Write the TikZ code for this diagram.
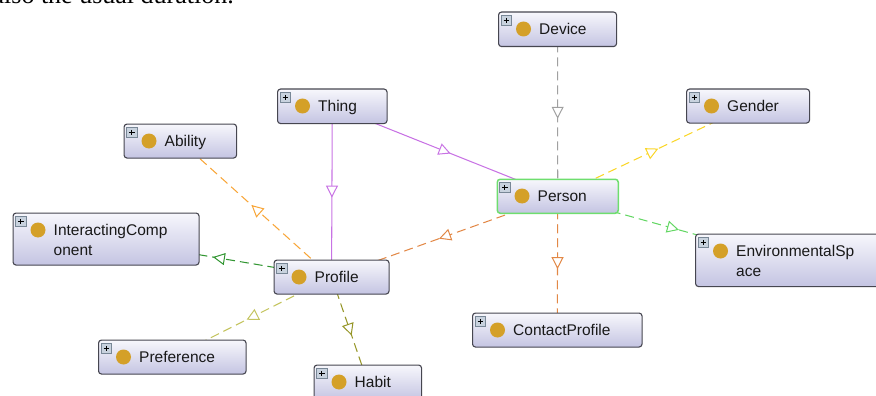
\documentclass[tikz,border=0pt]{standalone}
\usepackage{fontspec}
\setmainfont{Liberation Sans}
\newfontfamily\bodyserif{Liberation Serif}
\usetikzlibrary{arrows.meta,decorations.markings,backgrounds,calc}

\definecolor{boxline}{RGB}{70,70,80}
\definecolor{boxtop}{RGB}{247,247,252}
\definecolor{boxbot}{RGB}{196,196,226}
\definecolor{gold}{RGB}{212,160,40}
\definecolor{selgreen}{RGB}{110,222,110}
\definecolor{iconfill}{RGB}{200,210,222}
\definecolor{iconline}{RGB}{120,135,150}
\definecolor{violetline}{RGB}{200,115,228}
\definecolor{grayline}{RGB}{160,160,160}
\definecolor{yellowline}{RGB}{250,214,40}
\definecolor{greenline}{RGB}{100,215,100}
\definecolor{orangeline}{RGB}{226,136,70}
\definecolor{amberline}{RGB}{248,165,55}
\definecolor{darkgreenline}{RGB}{50,150,50}
\definecolor{oliveline}{RGB}{196,196,95}
\definecolor{darkoliveline}{RGB}{150,150,40}

\tikzset{
  clsbox/.style={rectangle, rounded corners=3pt, draw=boxline, line width=1.1pt,
    top color=boxtop, bottom color=boxbot, inner sep=0pt},
  clslabel/.style={font=\fontsize{15.5}{19.5}\selectfont, text=black!90,
    inner sep=0pt, anchor=base west, align=left},
  plusframe/.style={draw=iconline, fill=iconfill, line width=0.6pt},
  plusmark/.style={draw=black, line width=1.1pt},
  isa/.style={line width=1.05pt, postaction={decorate},
    decoration={markings, mark=at position 0.5 with
      {\arrow[xshift=6pt]{Triangle[length=12pt,width=12pt,fill=white,line width=1pt]}}}},
  dashedge/.style={dash pattern=on 9pt off 5pt},
}

% class box: [extra style]{name}{left}{top}{width}{height}{lines}{label}
% (a multi-line label sits on the baseline of its last line)
\newcommand\classnode[8][]{%
  \node[clsbox,#1,minimum width=#5pt,minimum height=#6pt,anchor=north west] (#2) at (#3,#4) {};
  \fill[gold] (#3+25.5,#4+17.5) circle (7.5pt);
  \draw[plusframe] (#3+3,#4+4) rectangle (#3+13.5,#4+14);
  \draw[plusmark] (#3+5.5,#4+9) -- (#3+11,#4+9) (#3+8.25,#4+6.3) -- (#3+8.25,#4+11.7);
  \node[clslabel] at (#3+41,#4+23.2+19.5*#7-19.5) {#8};
}

\begin{document}
\begin{tikzpicture}[x=1pt,y=-1pt]
\useasboundingbox (0,0) rectangle (876,396);
\clip (0,0) rectangle (876,396);

\node[font=\bodyserif\fontsize{26}{26}\selectfont, anchor=base east, inner sep=0pt] (caption) at (234,4) {also the usual duration.};

\classnode{device}{498}{11.5}{118}{34.5}{1}{Device}
\classnode{thing}{277}{88.5}{109.5}{34.5}{1}{Thing}
\classnode{gender}{686}{88.5}{123}{34}{1}{Gender}
\classnode{ability}{123.5}{123.5}{112.5}{34}{1}{Ability}
\classnode[draw=selgreen,line width=1.5pt]{person}{496.5}{178.5}{121}{34}{1}{Person}
\classnode{interact}{12.5}{212.5}{186}{52}{2}{InteractingComp\\onent}
\classnode{envspace}{695}{233.5}{186}{52.5}{2}{EnvironmentalSp\\ace}
\classnode{profile}{273.5}{259.5}{115}{34}{1}{Profile}
\classnode{contact}{472}{312.5}{169.5}{34}{1}{ContactProfile}
\classnode{preference}{98}{339.5}{147.5}{34}{1}{Preference}
\classnode{habit}{313.5}{364.5}{107.5}{35}{1}{Habit}

\begin{scope}[on background layer]
  \draw[isa, violetline] (thing.center) -- (person.center);
  \draw[isa, violetline] (thing.center) -- (profile.center);
  \draw[isa, dashedge, grayline] (device.center) -- (person.center);
  \draw[isa, dashedge, yellowline] (person.center) -- (gender.center);
  \draw[isa, dashedge, greenline] (person.center) -- (envspace.center);
  \draw[isa, dashedge, orangeline] (person.center) -- (contact.center);
  \draw[isa, dashedge, orangeline] (person.center) -- (profile.center);
  \draw[isa, dashedge, amberline] (profile.center) -- (ability.center);
  \draw[isa, dashedge, darkgreenline] (profile.center) -- (interact.center);
  \draw[isa, dashedge, oliveline] (profile.center) -- (preference.center);
  \draw[isa, dashedge, darkoliveline] (profile.center) -- (habit.center);
\end{scope}
\end{tikzpicture}
\end{document}
